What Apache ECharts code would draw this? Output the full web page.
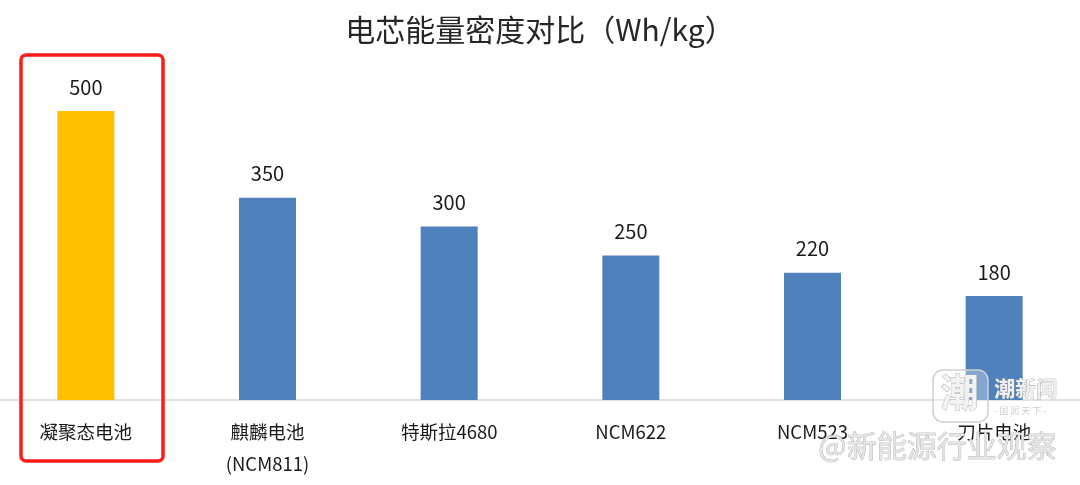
<!DOCTYPE html>
<html><head><meta charset="utf-8">
<script src="https://cdn.jsdelivr.net/npm/echarts@6/dist/echarts.min.js"></script>
<style>html,body{margin:0;padding:0;background:#fff;overflow:hidden;width:1080px;height:485px;position:relative}#c{width:1090px;height:485px;position:absolute;left:-5px;top:0}</style>
</head><body><div id="c"></div>
<script>
const categories = ['凝聚态电池', '麒麟电池\n(NCM811)', '特斯拉4680', 'NCM622', 'NCM523', '刀片电池'];
const values = [500, 350, 300, 250, 220, 180];
const barColors = ['#FFC000', '#4F81BD', '#4F81BD', '#4F81BD', '#4F81BD', '#4F81BD'];
const titleText = '电芯能量密度对比（Wh/kg）';

const chart = echarts.init(document.getElementById('c'));
const font = '"Microsoft YaHei","Noto Sans CJK SC","Noto Sans",sans-serif';
const dx = 5; // container offset
chart.setOption({
  animation: false,
  backgroundColor: '#fff',
  title: {
    text: titleText, left: 'center', top: 10,
    textStyle: { fontFamily: font, fontSize: 30, fontWeight: 'normal', color: '#262626' }
  },
  grid: { left: 0, right: 0, top: 53.2, bottom: 85, containLabel: false },
  xAxis: {
    type: 'category', data: categories,
    axisLine: { lineStyle: { color: '#d9d9d9', width: 1.5 } },
    axisTick: { show: false },
    axisLabel: { fontFamily: font, fontSize: 18.5, color: '#1a1a1a', margin: 16, lineHeight: 32, interval: 0 }
  },
  yAxis: { type: 'value', min: 0, max: 600, show: false, splitLine: { show: false } },
  series: [{
    type: 'bar', barWidth: 57,
    data: values.map((v, i) => ({ value: v, itemStyle: { color: barColors[i] } })),
    label: { show: true, position: 'top', distance: 14, fontFamily: font, fontSize: 20, color: '#1a1a1a' }
  }],
  graphic: [
    { type: 'rect', shape: { x: 21 + dx, y: 55, width: 142, height: 406, r: 5 },
      style: { fill: 'none', stroke: '#FF1A1A', lineWidth: 3.5 }, z: 10 },
    { type: 'text', left: 818 + dx, top: 430, z: 20,
      style: { text: '@新能源行业观察', font: '30px ' + font, fill: '#e4e4e4', stroke: '#9a9a9a', lineWidth: 0.6 } },
    { type: 'rect', shape: { x: 933 + dx, y: 370, width: 55, height: 52, r: 10 }, z: 20,
      style: { fill: 'rgba(255,255,255,0.3)', stroke: '#cfcfcf', lineWidth: 1.5 } },
    { type: 'text', left: 940 + dx, top: 372, z: 21,
      style: { text: '潮', font: 'bold 38px ' + font, fill: '#f2f2f2', stroke: '#aaa', lineWidth: 0.8 } },
    { type: 'text', left: 994 + dx, top: 377, z: 20,
      style: { text: '潮新闻', font: 'bold 21px ' + font, fill: '#f0f0f0', stroke: '#999', lineWidth: 0.6 } },
    { type: 'text', left: 994 + dx, top: 406, z: 20,
      style: { text: '- 国 润 天 下 -', font: '9px ' + font, fill: '#ccc' } }
  ]
});
</script></body></html>
